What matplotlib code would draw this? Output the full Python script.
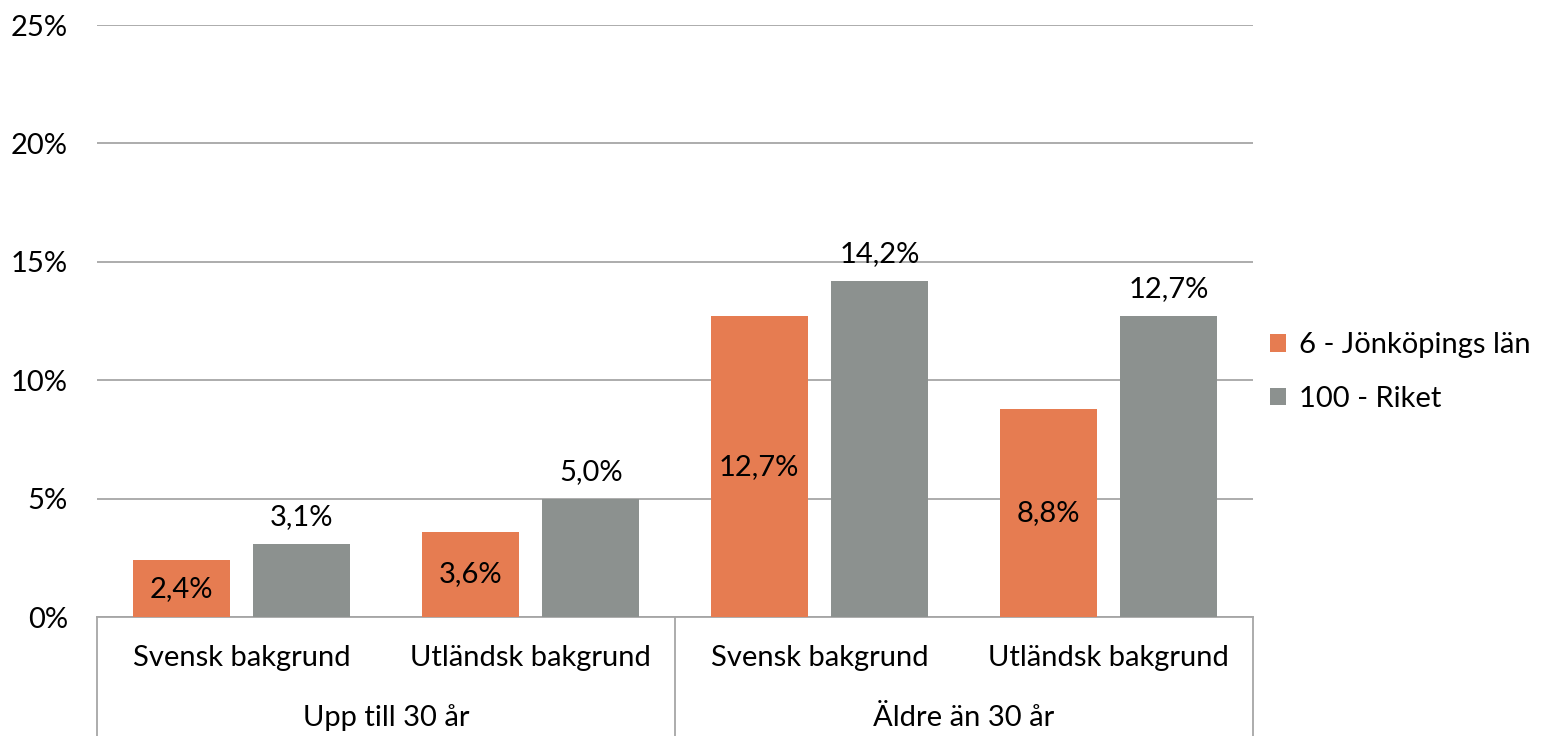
import matplotlib
matplotlib.use("Agg")
import matplotlib.pyplot as plt
import numpy as np

plt.rcParams['font.family'] = ['Lato', 'DejaVu Sans']

groups = ["Upp till 30 år", "Äldre än 30 år"]
subcats = ["Svensk bakgrund", "Utländsk bakgrund", "Svensk bakgrund", "Utländsk bakgrund"]
series_names = ["6 - Jönköpings län", "100 - Riket"]
jonkoping = [2.4, 3.6, 12.7, 8.8]
riket = [3.1, 5.0, 14.2, 12.7]
yticks = [0, 5, 10, 15, 20, 25]

c_orange = "#E67C51"
c_gray = "#8C918F"
grid_c = "#A6A6A6"
fs = 21

W, H = 1560, 736
fig = plt.figure(figsize=(W/100, H/100), dpi=100)
ax = fig.add_axes([97/W, (H-617)/H, (1253-97)/W, (617-25)/H])

x = np.arange(len(subcats))
bw = 0.335
off = 0.209
b1 = ax.bar(x - off, jonkoping, bw, color=c_orange, label=series_names[0], zorder=3)
b2 = ax.bar(x + off, riket, bw, color=c_gray, label=series_names[1], zorder=3)

def fmt(v):
    return f"{v:.1f}".replace(".", ",") + "%"

for xi, v in zip(x - off, jonkoping):
    ax.text(xi, v/2, fmt(v), ha="center", va="center", fontsize=fs, color="black", zorder=4)
for xi, v in zip(x + off, riket):
    ax.annotate(fmt(v), (xi, v), xytext=(0, 10), textcoords="offset points",
                ha="center", va="bottom", fontsize=fs, color="black")

ax.set_xlim(-0.5, len(subcats) - 0.5)
ax.set_ylim(0, 25)
ax.set_yticks(yticks)
ax.set_yticklabels([f"{t}%" for t in yticks], fontsize=fs)
ax.yaxis.grid(True, color=grid_c, linewidth=1.3, zorder=0)
ax.set_axisbelow(True)
for s in ["top", "right", "left"]:
    ax.spines[s].set_visible(False)
ax.spines["bottom"].set_color(grid_c)
ax.spines["bottom"].set_linewidth(1.3)
ax.tick_params(axis="y", length=0, pad=21)
ax.tick_params(axis="x", length=0)
ax.set_xticks([])

# multi-level category axis
trans = ax.get_xaxis_transform()
for xi, lab in zip(x, subcats):
    ax.text(xi, -41/592, lab, transform=trans, ha="center", va="center", fontsize=fs, clip_on=False)
for gi, g in enumerate(groups):
    ax.text(gi*2 + 0.5, -101/592, g, transform=trans, ha="center", va="center", fontsize=fs, clip_on=False)
for xb in [-0.5, 1.5, 3.5]:
    ax.plot([xb, xb], [0, -0.25], transform=trans, color=grid_c, linewidth=1.3, clip_on=False)

leg = fig.legend(handles=[b1, b2], labels=series_names, loc="center left",
                 bbox_to_anchor=(1244/W, (H-372)/H), frameon=False, fontsize=fs,
                 handlelength=0.55, handleheight=0.55, handletextpad=0.45, labelspacing=0.95)

fig.savefig("out.png", dpi=100)
